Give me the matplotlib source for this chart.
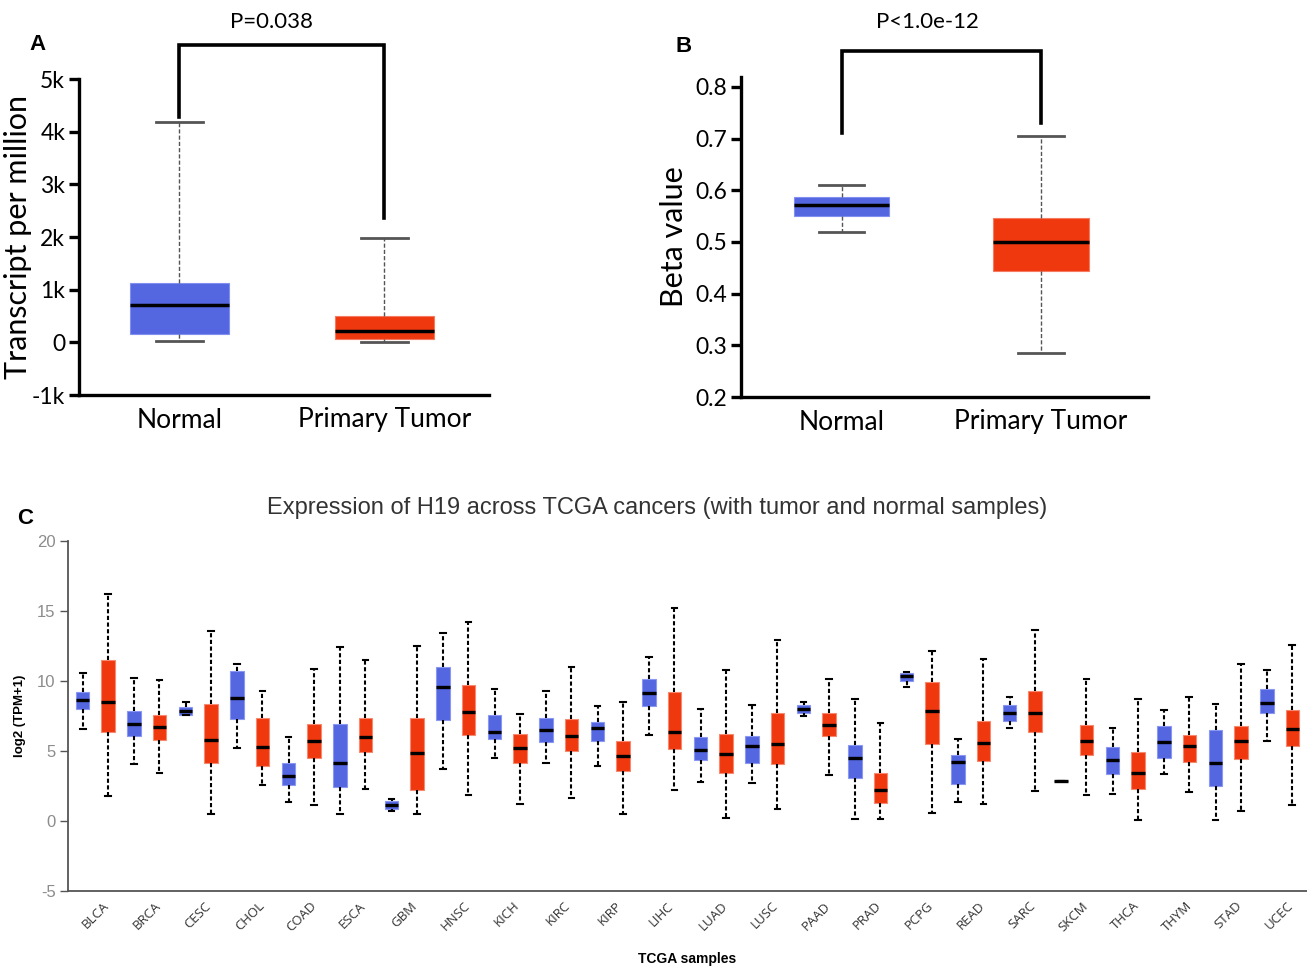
import matplotlib
matplotlib.use("Agg")
import matplotlib.pyplot as plt

plt.rcParams["axes.unicode_minus"] = False

# ---------------- Data ----------------
# Panel A: TPM (normal vs primary tumor)
groups_ab = ["Normal", "Primary Tumor"]
a_whislo = [30, 13]
a_q1 = [160, 63]
a_med = [700, 215]
a_q3 = [1130, 500]
a_whishi = [4180, 1980]
a_pvalue = "P=0.038"

# Panel B: methylation beta values
b_whislo = [0.520, 0.285]
b_q1 = [0.551, 0.444]
b_med = [0.5716, 0.500]
b_q3 = [0.5865, 0.547]
b_whishi = [0.611, 0.705]
b_pvalue = "P<1.0e-12"

# Panel C: log2(TPM+1) across TCGA cancers
cancers = ["BLCA", "BRCA", "CESC", "CHOL", "COAD", "ESCA", "GBM", "HNSC",
           "KICH", "KIRC", "KIRP", "LIHC", "LUAD", "LUSC", "PAAD", "PRAD",
           "PCPG", "READ", "SARC", "SKCM", "THCA", "THYM", "STAD", "UCEC"]
n_low = [6.58, 4.05, 7.56, 5.24, 1.38, 0.52, 0.69, 3.74, 4.53, 4.12, 3.96, 6.17,
         2.79, 2.72, 7.53, 0.12, 9.58, 1.36, 6.65, 2.84, 1.93, 3.34, 0.10, 5.70]
n_q1 = [8.00, 6.05, 7.60, 7.29, 2.55, 2.46, 0.88, 7.20, 5.89, 5.65, 5.72, 8.25,
        4.34, 4.17, 7.70, 3.10, 9.99, 2.62, 7.15, 2.84, 3.39, 4.51, 2.53, 7.70]
n_med = [8.65, 6.91, 7.84, 8.80, 3.24, 4.17, 1.12, 9.58, 6.39, 6.53, 6.67, 9.11,
         5.05, 5.36, 8.01, 4.51, 10.37, 4.24, 7.72, 2.84, 4.34, 5.65, 4.15, 8.41]
n_q3 = [9.18, 7.87, 8.15, 10.75, 4.15, 6.96, 1.41, 10.99, 7.60, 7.37, 7.06, 10.13,
        6.01, 6.08, 8.27, 5.46, 10.54, 4.70, 8.30, 2.84, 5.32, 6.79, 6.51, 9.42]
n_high = [10.54, 10.23, 8.53, 11.23, 6.01, 12.40, 1.60, 13.42, 9.46, 9.30, 8.18, 11.70,
          8.03, 8.27, 8.51, 8.68, 10.61, 5.86, 8.84, 2.84, 6.63, 7.91, 8.34, 10.82]
t_low = [1.76, 3.41, 0.52, 2.55, 1.14, 2.31, 0.52, 1.88, 1.24, 1.64, 0.52, 2.24,
         0.19, 0.83, 3.31, 0.12, 0.60, 1.24, 2.15, 1.84, 0.10, 2.07, 0.72, 1.12]
t_q1 = [6.36, 5.82, 4.15, 3.93, 4.48, 4.93, 2.19, 6.13, 4.17, 5.03, 3.55, 5.13,
        3.46, 4.10, 6.05, 1.29, 5.48, 4.31, 6.36, 4.70, 2.29, 4.24, 4.41, 5.36]
t_med = [8.51, 6.75, 5.82, 5.29, 5.74, 5.98, 4.86, 7.80, 5.20, 6.05, 4.62, 6.39,
         4.79, 5.51, 6.84, 2.19, 7.87, 5.58, 7.70, 5.74, 3.46, 5.36, 5.74, 6.60]
t_q3 = [11.49, 7.60, 8.39, 7.37, 6.96, 7.37, 7.37, 9.75, 6.25, 7.27, 5.72, 9.25,
        6.25, 7.68, 7.68, 3.41, 9.92, 7.13, 9.32, 6.89, 4.91, 6.17, 6.79, 7.91]
t_high = [16.19, 10.04, 13.59, 9.32, 10.89, 11.47, 12.52, 14.18, 7.65, 10.97, 8.53, 15.23,
          10.80, 12.94, 10.11, 6.98, 12.16, 11.54, 13.64, 10.11, 8.75, 8.84, 11.25, 12.59]

BLUE = "#5466E0"
RED = "#F0380F"

W, H = 1307, 967
fig = plt.figure(figsize=(W / 100, H / 100), dpi=100)


def fx(px):
    return px / W


def fy(py):
    return 1 - py / H


def stats(lo, q1, med, q3, hi):
    return [dict(whislo=a, q1=b, med=c, q3=d, whishi=e, fliers=[])
            for a, b, c, d, e in zip(lo, q1, med, q3, hi)]


def style_top_panel(ax):
    for s in ["top", "right"]:
        ax.spines[s].set_visible(False)
    for s in ["left", "bottom"]:
        ax.spines[s].set_linewidth(2.4)
        ax.spines[s].set_color("black")
    ax.tick_params(axis="y", length=7, width=2.4, labelsize=16.5, pad=3,
                   labelfontfamily="Lato", color="black")
    ax.tick_params(axis="x", length=0, labelsize=19, pad=9,
                   labelfontfamily="Lato")


def top_box(ax, st):
    ax.bxp(st, positions=[1, 2], widths=0.48, capwidths=0.23,
           patch_artist=True, showfliers=False,
           boxprops=dict(linewidth=0.8),
           whiskerprops=dict(linestyle=(0, (3, 1.5)), color="#555555", linewidth=1.0),
           capprops=dict(color="#555555", linewidth=2.0),
           medianprops=dict(color="black", linewidth=2.5))
    boxes = [p for p in ax.patches]
    for p, c, e in zip(boxes, [BLUE, RED], ["#8090f0", "#f47a60"]):
        p.set_facecolor(c)
        p.set_edgecolor(e)


# ---------------- Panel A ----------------
axA = fig.add_axes([fx(79), fy(395), fx(489) - fx(79), fy(79) - fy(395)])
top_box(axA, stats(a_whislo, a_q1, a_med, a_q3, a_whishi))
axA.set_xlim(0.51, 2.51)
axA.set_ylim(-1000, 5000)
axA.set_yticks([-1000, 0, 1000, 2000, 3000, 4000, 5000])
axA.set_yticklabels(["-1k", "0", "1k", "2k", "3k", "4k", "5k"])
axA.set_xticks([1, 2])
axA.set_xticklabels(groups_ab)
style_top_panel(axA)
axA.set_ylabel("Transcript per million", fontsize=22, family="Lato", labelpad=0)
axA.plot([1, 1, 2, 2], [4270, 5650, 5650, 2370], color="black", lw=2.6,
         clip_on=False, solid_joinstyle="miter")
fig.text(fx(272), fy(22), a_pvalue, ha="center", va="center", fontsize=16,
         family="Lato")
fig.text(fx(38), fy(44), "A", ha="center", va="center", fontsize=16,
         fontweight="bold", family="Liberation Sans")

# ---------------- Panel B ----------------
axB = fig.add_axes([fx(741), fy(397), fx(1148) - fx(741), fy(77) - fy(397)])
top_box(axB, stats(b_whislo, b_q1, b_med, b_q3, b_whishi))
axB.set_xlim(0.496, 2.536)
axB.set_ylim(0.2, 0.819)
axB.set_yticks([0.2, 0.3, 0.4, 0.5, 0.6, 0.7, 0.8])
axB.set_yticklabels(["0.2", "0.3", "0.4", "0.5", "0.6", "0.7", "0.8"])
axB.set_xticks([1, 2])
axB.set_xticklabels(groups_ab)
style_top_panel(axB)
axB.set_ylabel("Beta value", fontsize=22, family="Lato", labelpad=5)
axB.plot([1, 1, 2, 2], [0.711, 0.869, 0.869, 0.730], color="black", lw=2.6,
         clip_on=False, solid_joinstyle="miter")
fig.text(fx(927), fy(22), b_pvalue, ha="center", va="center", fontsize=16,
         family="Lato")
fig.text(fx(684), fy(46), "B", ha="center", va="center", fontsize=16,
         fontweight="bold", family="Liberation Sans")

# ---------------- Panel C ----------------
axC = fig.add_axes([fx(68), fy(891), 1 - fx(68), fy(541) - fy(891)])
n = len(cancers)
pos = list(range(n))
off = 0.245
bw = 0.26
common = dict(widths=bw, capwidths=0.11, patch_artist=True, showfliers=False,
              whiskerprops=dict(linestyle=(0, (2, 1.2)), color="black", linewidth=1.5),
              capprops=dict(color="black", linewidth=1.5),
              medianprops=dict(color="black", linewidth=2.4))
bN = axC.bxp(stats(n_low, n_q1, n_med, n_q3, n_high),
             positions=[p - off for p in pos],
             boxprops=dict(facecolor=BLUE, edgecolor="#8a98f2", linewidth=0.8),
             **common)
bT = axC.bxp(stats(t_low, t_q1, t_med, t_q3, t_high),
             positions=[p + off for p in pos],
             boxprops=dict(facecolor=RED, edgecolor="#f58a70", linewidth=0.8),
             **common)
axC.set_xlim(-0.53, 23.53)
axC.set_ylim(-5, 20)
axC.set_yticks([-5, 0, 5, 10, 15, 20])
axC.set_xticks(pos)
axC.set_xticklabels(cancers, rotation=45, ha="center", va="top",
                    fontsize=9.5, family="Open Sans", color="#333333")
for s in ["top", "right"]:
    axC.spines[s].set_visible(False)
for s in ["left", "bottom"]:
    axC.spines[s].set_color("#555555")
    axC.spines[s].set_linewidth(1.3)
axC.tick_params(axis="y", length=6, width=1.0, color="#555555",
                labelcolor="#8c8c8c", labelsize=12, pad=3)
axC.tick_params(axis="x", length=0, pad=6)
for t in axC.get_yticklabels():
    t.set_family("Liberation Sans")
axC.set_ylabel("log2 (TPM+1)", fontsize=9.5, fontweight="bold",
               family="Liberation Sans", labelpad=8)
axC.set_xlabel("TCGA samples", fontsize=10, fontweight="bold",
               family="Liberation Sans", labelpad=13)
fig.text(fx(657), fy(508),
         "Expression of H19 across TCGA cancers (with tumor and normal samples)",
         ha="center", va="center", fontsize=17, family="Liberation Sans",
         color="#333333")
fig.text(fx(25), fy(518), "C", ha="center", va="center", fontsize=16,
         fontweight="bold", family="Liberation Sans")

fig.savefig("out.png", dpi=100)
